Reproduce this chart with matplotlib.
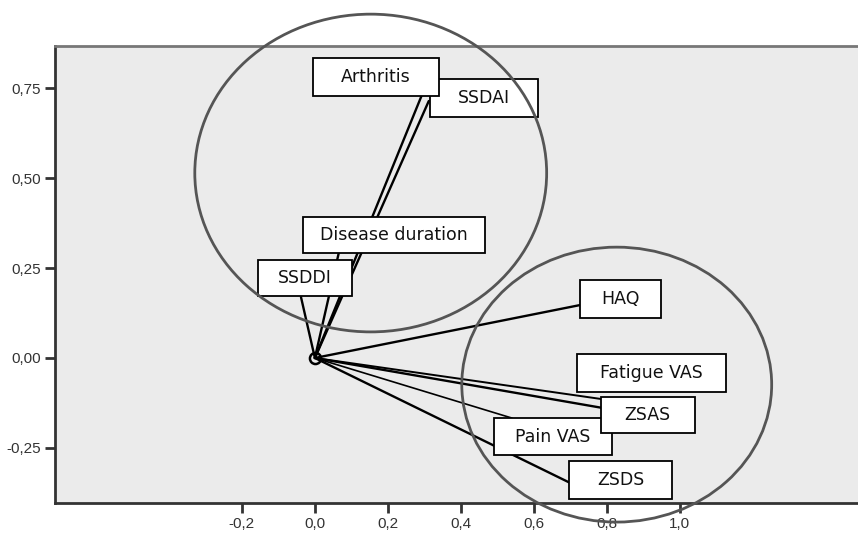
import matplotlib.pyplot as plt
from matplotlib.patches import Ellipse, Rectangle
import numpy as np

# component loadings
variables = ['Arthritis', 'SSDAI', 'Disease duration', 'SSDDI', 'HAQ',
             'Fatigue VAS', 'ZSAS', 'Pain VAS', 'ZSDS']
comp1 = [0.292, 0.312, 0.065, -0.038, 0.726, 0.805, 0.789, 0.540, 0.699]
comp2 = [0.728, 0.714, 0.290, 0.169, 0.147, -0.117, -0.139, -0.167, -0.347]

xticks = [-0.2, 0.0, 0.2, 0.4, 0.6, 0.8, 1.0]
yticks = [-0.25, 0.0, 0.25, 0.50, 0.75]

# label boxes (center x, center y, width, height) in data units
boxes = {
    'Arthritis': (0.167, 0.781, 0.345, 0.106),
    'SSDAI': (0.463, 0.722, 0.296, 0.106),
    'Disease duration': (0.216, 0.342, 0.499, 0.100),
    'SSDDI': (-0.027, 0.222, 0.258, 0.100),
    'HAQ': (0.836, 0.164, 0.222, 0.106),
    'Fatigue VAS': (0.923, -0.042, 0.408, 0.106),
    'ZSAS': (0.912, -0.158, 0.258, 0.100),
    'Pain VAS': (0.652, -0.219, 0.323, 0.103),
    'ZSDS': (0.838, -0.339, 0.282, 0.103),
}
box_order = ['SSDAI', 'Arthritis', 'Disease duration', 'SSDDI', 'HAQ',
             'Fatigue VAS', 'Pain VAS', 'ZSAS', 'ZSDS']
line_w = {'Pain VAS': 1.2, 'Fatigue VAS': 1.4}

fig = plt.figure(figsize=(8.58, 5.34), dpi=100)
ax = fig.add_axes([55/858, 31/534, 1 - 55/858, 457/534])
ax.set_facecolor('#ebebeb')

for name, x, y in zip(variables, comp1, comp2):
    ax.plot([0, x], [0, y], color='black', lw=line_w.get(name, 1.7),
            solid_capstyle='round', zorder=2)
ax.plot(0, 0, 'o', ms=8, mfc='none', mec='black', mew=1.8, zorder=3)

for k, name in enumerate(box_order):
    cx, cy, w, h = boxes[name]
    ax.add_patch(Rectangle((cx - w/2, cy - h/2), w, h, facecolor='white',
                           edgecolor='black', lw=1.3, zorder=4 + k*0.01))
    ax.text(cx, cy, name, ha='center', va='center', fontsize=12.5,
            family='DejaVu Sans', color='#111111', zorder=4.005 + k*0.01)

# group ellipses
ax.add_patch(Ellipse((0.153, 0.514), 0.964, 0.883, fill=False,
                     edgecolor='#555555', lw=2.0, zorder=6, clip_on=False))
ax.add_patch(Ellipse((0.827, -0.074), 0.849, 0.764, fill=False,
                     edgecolor='#555555', lw=2.0, zorder=6, clip_on=False))

ax.set_xlim(-0.712, 1.488)
ax.set_ylim(-0.403, 0.867)
ax.set_xticks(xticks)
ax.set_yticks(yticks)
ax.set_xticklabels([f'{t:.1f}'.replace('.', ',') for t in xticks])
ax.set_yticklabels([f'{t:.2f}'.replace('.', ',') for t in yticks])
ax.tick_params(direction='out', length=7, width=2, color='#333333',
               labelsize=11, labelcolor='#333333', pad=3)
for lab in ax.get_xticklabels() + ax.get_yticklabels():
    lab.set_family('Liberation Sans')

ax.spines['right'].set_visible(False)
ax.spines['left'].set_color('#333333')
ax.spines['bottom'].set_color('#333333')
ax.spines['top'].set_color('#777777')
for s in ['left', 'bottom', 'top']:
    ax.spines[s].set_linewidth(2)

fig.savefig('out.png', dpi=100)
